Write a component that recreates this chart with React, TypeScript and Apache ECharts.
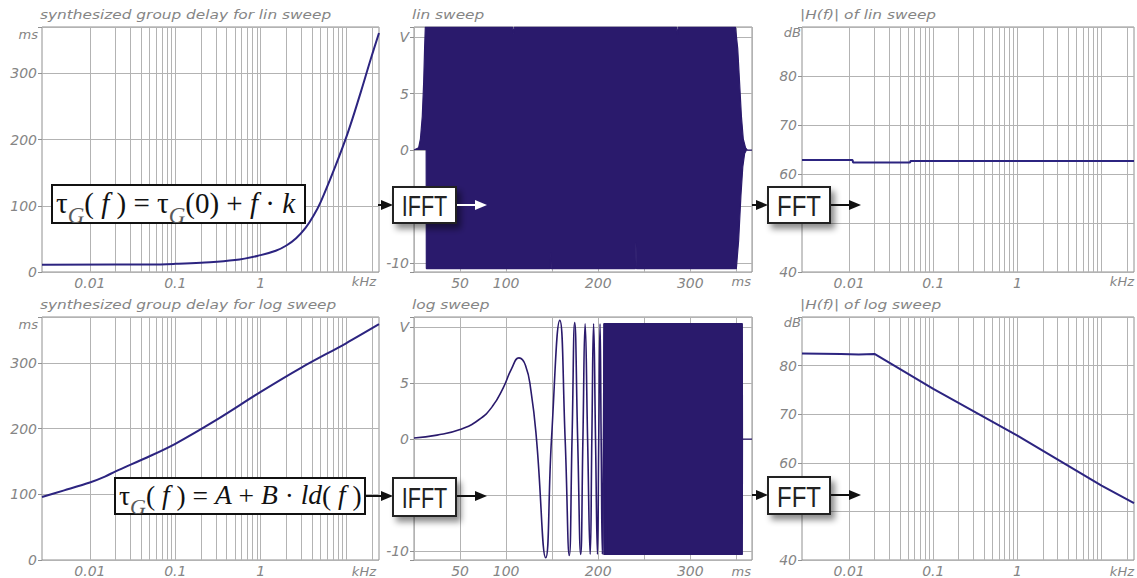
import { useEffect, useRef } from 'react';
import * as echarts from 'echarts';

const W = 1137;
const H = 578;

const F_MIN = 0.00275;
const F_MAX = 24.3;
const T_MIN = 0;
const T_MAX = 367;

const FILL = '#2a1a6c';
const CURVE = '#2c2480';
const GRID = '#b3b3b3';
const FRAME = '#909090';
const LABEL = '#858585';

const COLS = [
  { left: 42, width: 337 },
  { left: 414, width: 338 },
  { left: 802, width: 337 },
];
const ROWS = [
  { top: 27, height: 245 },
  { top: 317, height: 245 },
];

const titlesTop = ['synthesized group delay for lin sweep', 'lin sweep', '|H(f)| of lin sweep'];
const titlesBottom = ['synthesized group delay for log sweep', 'log sweep', '|H(f)| of log sweep'];

// group delay, lin sweep  [kHz, ms]
const linDelay: [number, number][] = [
  [0.00275, 11], [0.05, 11.4], [0.1, 12.3], [0.2, 14], [0.5, 18], [1, 25.5], [1.5, 32],
  [2, 40], [2.6, 51], [3.37, 67], [4.2, 86], [5.05, 106], [7.24, 155], [10.4, 209], [14.9, 272], [19.5, 322], [24.3, 361],
];
// group delay, log sweep  [kHz, ms]
const logDelay: [number, number][] = [
  [0.00275, 96], [0.005, 106], [0.01, 118], [0.015, 127], [0.02, 135], [0.05, 158],
  [0.1, 177], [0.3, 213], [1, 256], [3, 293], [10, 330], [24.3, 359],
];
// magnitude responses [kHz, dB]
const linMagnitude: [number, number][] = [
  [0.00275, 62.85], [0.011, 62.85], [0.0111, 62.35], [0.053, 62.35], [0.0535, 62.65], [24.3, 62.65],
];
const logMagnitude: [number, number][] = [
  [0.00275, 82.5], [0.008, 82.4], [0.013, 82.3], [0.02, 82.4], [0.1, 75.2], [1, 65.6], [10, 55.3], [24.3, 51.7],
];

// lin sweep envelope [ms, V]
const linSweepUpper: [number, number][] = [
  [0, 0], [5, 0.2], [7, 1], [9, 3], [10.5, 6], [11.5, 9], [12.3, 10.9],
  [107, 10.9], [108, 10.3], [109, 10.9], [285, 10.9], [286, 10.2], [287, 10.9],
  [349, 10.9], [351.5, 9], [353.5, 6], [355.5, 3], [357.5, 1], [360, 0.2], [362, 0], [367, 0],
];
const linSweepLower: [number, number][] = [
  [13.2, 0], [13.4, -10.5], [148, -10.5], [148.5, -9.1], [149, -10.5],
  [240.5, -10.5], [241, -8.2], [241.5, -10.5],
  [350, -10.5], [352.5, -8], [355, -4], [357, -1.5], [359, -0.3], [361, 0],
];

// log sweep waveform [ms, V]
const logSweepWave: [number, number][] = [
  [0, 0.1], [25, 0.35], [50, 0.85], [70, 1.7], [85, 2.9], [97, 4.6], [106, 6.3], [114, 7.25],
  [121, 6.6], [127, 4.3], [133, 0], [143, -10.6], [149.3, 0], [158.3, 10.6], [164.1, 0],
  [168.6, -10.4], [171.6, 0], [174.5, 10.4], [177.7, 0], [181, -10.3], [183.4, 0], [185.8, 10.3],
  [188.5, 0], [191.3, -10.3], [193.1, 0], [195, 10.3], [197.1, 0], [199.2, -10.3], [200.6, 0],
  [202, 10.3], [203.2, 0], [204.5, -10.3], [205.7, 0], [206.8, 10.3], [207.9, 0], [209, -10.3],
];
const logSweepUpper: [number, number][] = [
  [206, 0], [206.1, 10.3], [356.5, 10.3], [356.7, 0], [367, 0],
];
const logSweepLower: [number, number][] = [
  [206, 0], [206.1, -10.3], [356.5, -10.3], [356.7, 0],
];

const timeTickLabels = [50, 100, 200, 300];
const delayTickLabels = [0, 100, 200, 300];
const dbTickLabels = [40, 60, 70, 80];
const voltTickLabels = [-10, 0, 5];
const freqTickLabels: [number, string][] = [[0.01, '0.01'], [0.1, '0.1'], [1, '1']];

const LOG_MULTS = [1, 2, 3, 4, 5, 6, 7, 8, 9];
const LOG_DECADES = [0.001, 0.01, 0.1, 1, 10];
const logGridValues: number[] = [];
LOG_DECADES.forEach((d) => LOG_MULTS.forEach((m) => {
  const v = d * m;
  if (v > F_MIN * 1.01 && v < F_MAX * 0.99) logGridValues.push(v);
}));

const labelStyle = {
  color: LABEL,
  fontFamily: 'DejaVu Sans',
  fontStyle: 'italic' as const,
  fontSize: 14,
};

function near(a: number, b: number) {
  return Math.abs(a - b) < 1e-6 * Math.max(1, Math.abs(b));
}

function freqAxis(gridIndex: number) {
  return {
    type: 'log', logBase: 10, gridIndex, min: F_MIN, max: F_MAX,
    axisLine: { show: false }, axisTick: { show: false }, splitLine: { show: false },
    axisLabel: {
      ...labelStyle, margin: 4, showMinLabel: true, showMaxLabel: true,
      formatter: (v: number) => {
        const f = freqTickLabels.find(([x]) => Math.abs(Math.log10(v) - Math.log10(x)) < 1e-4);
        return f ? f[1] : '';
      },
    },
  };
}
function timeAxis(gridIndex: number) {
  return {
    type: 'value', gridIndex, min: T_MIN, max: T_MAX, interval: 50,
    axisLine: { show: false }, axisTick: { show: false },
    splitLine: { show: true, lineStyle: { color: GRID, width: 1 } },
    axisLabel: {
      ...labelStyle, margin: 4, showMinLabel: true, showMaxLabel: false,
      formatter: (v: number) => (timeTickLabels.some((t) => near(v, t)) ? String(v) : ''),
    },
  };
}
function yAxisCommon(gridIndex: number) {
  return {
    type: 'value', gridIndex,
    axisLine: { show: false },
    axisTick: { show: true, length: 4, lineStyle: { color: FRAME } },
    splitLine: { show: true, lineStyle: { color: GRID, width: 1 } },
  };
}
function delayAxis(gridIndex: number) {
  return {
    ...yAxisCommon(gridIndex), min: 0, max: 370, interval: 100,
    axisLabel: {
      ...labelStyle, margin: 5,
      formatter: (v: number) => (delayTickLabels.some((t) => near(v, t)) ? String(v) : ''),
    },
  };
}
function voltAxis(gridIndex: number) {
  return {
    ...yAxisCommon(gridIndex), min: -10.8, max: 10.9, splitNumber: 5,
    axisLabel: {
      ...labelStyle, margin: 5, showMinLabel: true, showMaxLabel: true,
      formatter: (v: number) => {
        if (near(v, 10)) return 'V';
        return voltTickLabels.some((t) => near(v, t)) ? String(Math.round(v)) : '';
      },
    },
  };
}
function dbAxis(gridIndex: number) {
  return {
    ...yAxisCommon(gridIndex), min: 40, max: 90, interval: 10,
    axisLabel: {
      ...labelStyle, margin: 5,
      formatter: (v: number) => (dbTickLabels.some((t) => near(v, t)) ? String(v) : ''),
    },
  };
}

function logGridMarkLine() {
  return {
    silent: true, symbol: ['none', 'none'], z: 1,
    label: { show: false },
    emphasis: { disabled: true },
    lineStyle: { color: GRID, width: 1, type: 'solid' },
    data: logGridValues.map((v) => ({ xAxis: v })),
  };
}

function curve(data: [number, number][], idx: number, smooth: number | boolean, width = 2, color = CURVE) {
  return {
    type: 'line', xAxisIndex: idx, yAxisIndex: idx, data, showSymbol: false, smooth,
    lineStyle: { color, width }, silent: true, z: 3,
  };
}
function band(data: [number, number][], idx: number) {
  return {
    type: 'line', xAxisIndex: idx, yAxisIndex: idx, data, showSymbol: false,
    lineStyle: { color: FILL, width: 1.2 }, areaStyle: { color: FILL, opacity: 1, origin: 0 },
    silent: true, z: 3,
  };
}

function arrow(x1: number, x2: number, y: number, color: string) {
  const hl = 12;
  const hh = 5;
  return [
    { type: 'line', z: 100, shape: { x1, y1: y, x2: x2 - hl + 1, y2: y }, style: { stroke: color, lineWidth: 2 } },
    { type: 'polygon', z: 100, shape: { points: [[x2 - hl, y - hh], [x2, y], [x2 - hl, y + hh]] }, style: { fill: color } },
  ];
}
function procBox(x: number, y: number, w: number, h: number, label: string, scaleX: number) {
  return [
    {
      type: 'rect', z: 100, shape: { x, y, width: w, height: h },
      style: { fill: '#fff', stroke: '#222', lineWidth: 2, shadowBlur: 6, shadowOffsetX: 4, shadowOffsetY: 5, shadowColor: 'rgba(0,0,0,0.45)' },
    },
    {
      type: 'text', z: 101, x: x + w / 2, y: y + h / 2 + 1, scaleX,
      style: { text: label, fontFamily: 'Liberation Sans', fontSize: 30, fill: '#222', align: 'center', verticalAlign: 'middle' },
    },
  ];
}
const serif = 'Liberation Serif';
function formulaRich(size: number) {
  const sub = Math.round(size * 0.8);
  return {
    n: { fontFamily: serif, fontSize: size, lineHeight: size + 2, verticalAlign: 'top', fill: '#111' },
    i: { fontFamily: serif, fontStyle: 'italic', fontSize: size, lineHeight: size + 2, verticalAlign: 'top', fill: '#111' },
    s: { fontFamily: serif, fontStyle: 'italic', fontSize: sub, lineHeight: sub, padding: [Math.round(size * 0.5), 0, 0, 0], verticalAlign: 'top', fill: '#5a5a5a' },
  };
}
function formulaBox(x: number, y: number, w: number, h: number, text: string, size: number) {
  return [
    { type: 'rect', z: 100, shape: { x, y, width: w, height: h }, style: { fill: '#fff', stroke: '#111', lineWidth: 2 } },
    {
      type: 'text', z: 101, x: x + 4, y: y + h / 2,
      style: { text, rich: formulaRich(size), align: 'left', verticalAlign: 'middle' },
    },
  ];
}
function plainText(x: number, y: number, text: string, align: string, size = 13, scaleX = 1) {
  return {
    type: 'text', z: 90, x, y, scaleX,
    style: { text, fontFamily: 'DejaVu Sans', fontStyle: 'italic', fontSize: size, fill: LABEL, align, verticalAlign: 'middle' },
  };
}

export default function App() {
  const ref = useRef<HTMLDivElement>(null);
  useEffect(() => {
    if (!ref.current) return;
    const chart = echarts.init(ref.current, undefined, { renderer: 'svg', width: W, height: H });

    const grids: any[] = [];
    ROWS.forEach((r) => COLS.forEach((c) => {
      grids.push({ left: c.left, top: r.top, width: c.width, height: r.height, show: true, borderColor: FRAME, borderWidth: 1, backgroundColor: 'transparent', containLabel: false });
    }));

    const xAxis = [freqAxis(0), timeAxis(1), freqAxis(2), freqAxis(3), timeAxis(4), freqAxis(5)];
    const yAxis = [delayAxis(0), voltAxis(1), dbAxis(2), delayAxis(3), voltAxis(4), dbAxis(5)];

    const series: any[] = [
      { ...curve(linDelay, 0, 0.4), markLine: logGridMarkLine() },
      band(linSweepUpper, 1),
      band(linSweepLower, 1),
      { ...curve(linMagnitude, 2, false), markLine: logGridMarkLine() },
      { ...curve(logDelay, 3, 0.3), markLine: logGridMarkLine() },
      curve(logSweepWave, 4, 0.5, 1.6, FILL),
      band(logSweepUpper, 4),
      band(logSweepLower, 4),
      { ...curve(logMagnitude, 5, false), markLine: logGridMarkLine() },
    ];

    const graphics: any[] = [];
    ROWS.forEach((r, ri) => {
      const titles = ri === 0 ? titlesTop : titlesBottom;
      COLS.forEach((c, ci) => {
        graphics.push(plainText(c.left - 2, r.top - 12, titles[ci], 'left', 12, 1.28));
        const bottom = r.top + r.height;
        if (ci === 0 || ci === 2) {
          graphics.push(plainText(c.left + Math.min(c.width, W - c.left) - 3, bottom + 9, 'kHz', 'right'));
        } else {
          graphics.push(plainText(c.left + c.width - 1, bottom + 9, 'ms', 'right'));
        }
        if (ci === 0) graphics.push(plainText(c.left - 4, r.top + 7, 'ms', 'right'));
        if (ci === 2) graphics.push(plainText(c.left - 1, r.top + 5, 'dB', 'right'));
      });
    });

    // top flow
    graphics.push(...formulaBox(52, 185, 253, 38, '{n|τ}{s|G}{n|( }{i|f}{n| ) = τ}{s|G}{n|(0) + }{i|f}{n| · }{i|k}', 29));
    graphics.push(...arrow(378, 393, 205, '#111'));
    graphics.push(...procBox(393, 187, 63, 36, 'IFFT', 0.72));
    graphics.push(...arrow(457, 487, 205, '#ffffff'));
    graphics.push(...arrow(752, 768, 205, '#111'));
    graphics.push(...procBox(768, 187, 62, 36, 'FFT', 0.8));
    graphics.push(...arrow(831, 861, 205, '#111'));

    // bottom flow
    graphics.push(...formulaBox(115, 478, 250, 36, '{n|τ}{s|G}{n|( }{i|f}{n| ) = }{i|A}{n| + }{i|B}{n| · }{i|ld}{n|( }{i|f}{n| )}', 27.5));
    graphics.push(...arrow(366, 393, 496, '#111'));
    graphics.push(...procBox(393, 478, 63, 38, 'IFFT', 0.72));
    graphics.push(...arrow(457, 487, 496, '#111'));
    graphics.push(...arrow(752, 768, 495, '#111'));
    graphics.push(...procBox(768, 477, 62, 37, 'FFT', 0.8));
    graphics.push(...arrow(831, 861, 495, '#111'));

    chart.setOption({
      animation: false,
      backgroundColor: '#ffffff',
      grid: grids,
      xAxis,
      yAxis,
      series,
      graphic: { elements: graphics },
    });
    return () => chart.dispose();
  }, []);
  return <div ref={ref} style={{ position: 'absolute', left: 0, top: 0, width: W, height: H }} />;
}
